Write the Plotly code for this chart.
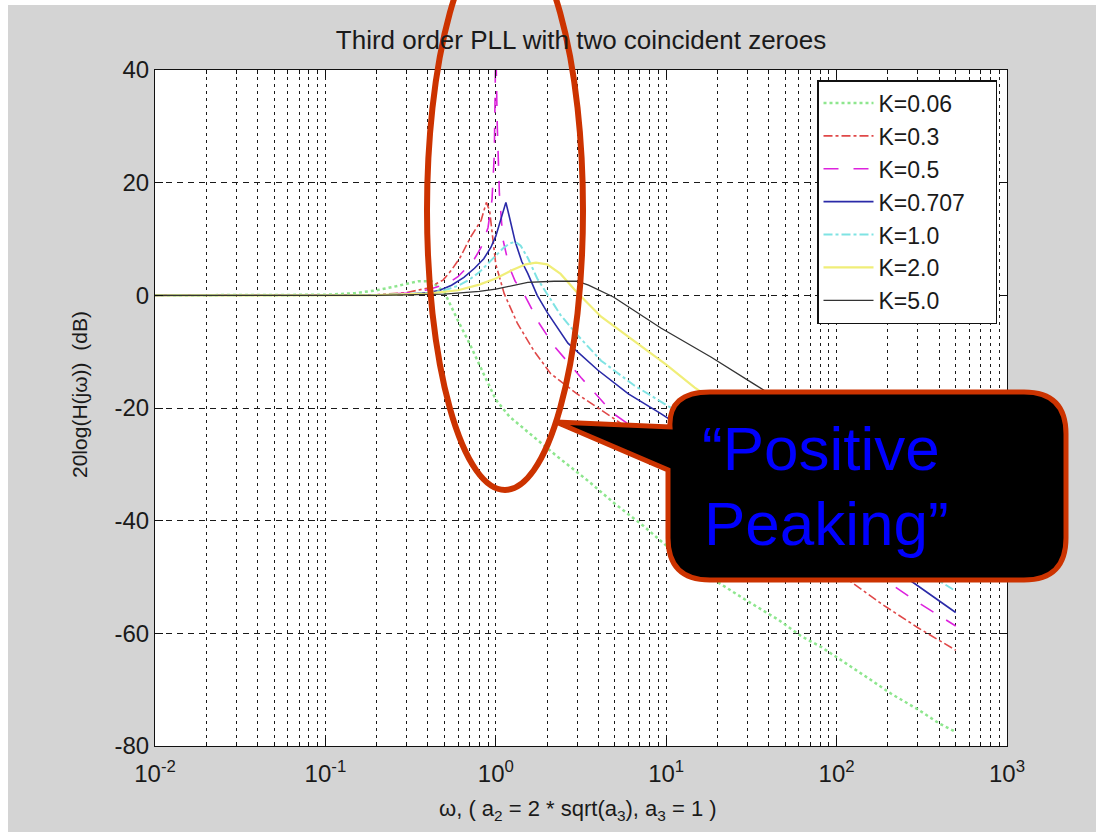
import plotly.graph_objects as go

# ---------------- data ----------------
w_k006 = [0.01, 0.1, 0.15, 0.2, 0.25, 0.3, 0.35, 0.42, 0.5, 0.6, 0.7, 0.85, 1.0, 1.2, 1.5, 2.25, 3.5, 5.0, 7.4, 11, 16, 29, 45, 62, 82, 110, 154, 211, 300, 400, 500]
db_k006 = [0, 0.1, 0.4, 0.9, 1.5, 2.1, 2.5, 2.5, 0.5, -4.5, -8.5, -14.0, -18.5, -21.5, -24.0, -28.4, -33.0, -37.0, -41.0, -45.5, -49.0, -54.0, -57.5, -60.5, -62.5, -65.0, -68.0, -70.8, -73.5, -76.0, -77.5]

w_k03 = [0.01, 0.2, 0.3, 0.4, 0.49, 0.55, 0.62, 0.71, 0.82, 0.88, 0.92, 0.96, 1.0, 1.12, 1.34, 1.67, 2.1, 3.0, 5.0, 10, 20, 50, 100, 184, 300, 500]
db_k03 = [0, 0.1, 0.5, 1.3, 2.7, 4.5, 6.8, 10.3, 13.3, 16.5, 15.0, 10.0, 5.5, 0.3, -5.0, -9.8, -13.9, -17.5, -22.0, -28.4, -34.5, -43.0, -49.0, -54.8, -59.0, -63.0]

w_k05 = [0.01, 0.2, 0.3, 0.4, 0.52, 0.6, 0.68, 0.75, 0.82, 0.9, 0.95, 0.98, 1.0, 1.02, 1.05, 1.1, 1.2, 1.3, 1.46, 1.8, 2.2, 3.16, 4.9, 10, 20, 50, 100, 202, 300, 500]
db_k05 = [0, 0.1, 0.4, 1.0, 2.1, 3.3, 5.0, 6.5, 8.5, 12.0, 17.0, 25.0, 45.0, 30.0, 18.0, 10.0, 5.0, 2.5, 0.3, -5.0, -9.0, -14.6, -21.0, -27.5, -33.5, -41.0, -45.5, -51.0, -54.5, -58.7]

w_k0707 = [0.01, 0.2, 0.3, 0.4, 0.47, 0.55, 0.65, 0.75, 0.85, 0.935, 1.0, 1.08, 1.146, 1.2, 1.3, 1.42, 1.54, 1.75, 2.02, 2.65, 3.98, 6.0, 9.3, 20, 50, 100, 200, 288, 500]
db_k0707 = [0, 0.05, 0.2, 0.5, 0.9, 1.8, 3.2, 4.8, 6.5, 8.5, 10.5, 14.0, 16.5, 14.0, 9.5, 6.0, 3.9, 0.0, -3.2, -8.5, -13.3, -17.5, -21.0, -27.5, -35.0, -41.5, -47.8, -51.2, -56.3]

w_k1 = [0.01, 0.2, 0.4, 0.5, 0.6, 0.7, 0.8, 0.9, 1.0, 1.1, 1.2, 1.3, 1.4, 1.55, 1.75, 2.02, 2.4, 3.0, 4.15, 6.5, 8.9, 20, 50, 100, 200, 500]
db_k1 = [0, 0.05, 0.4, 0.9, 1.7, 2.8, 4.1, 5.6, 7.0, 8.3, 9.2, 9.5, 8.8, 6.5, 3.0, 0.0, -3.5, -7.0, -11.6, -16.0, -18.5, -25.0, -32.5, -38.5, -45.0, -52.5]

w_k2 = [0.01, 0.2, 0.4, 0.6, 0.8, 1.0, 1.25, 1.5, 1.72, 2.0, 2.4, 3.0, 4.15, 5.5, 7.8, 10, 14.7, 30, 100, 200, 500]
db_k2 = [0, 0.02, 0.3, 0.9, 1.9, 3.0, 4.5, 5.5, 5.8, 5.5, 3.8, 0.5, -3.8, -6.5, -10.0, -12.3, -16.4, -22.5, -33.0, -39.0, -47.0]

w_k5 = [0.01, 0.2, 0.5, 0.8, 1.0, 1.54, 2.2, 3.0, 3.5, 4.9, 9.3, 18.4, 33, 100, 200, 500]
db_k5 = [0, 0, 0.2, 0.7, 1.1, 2.3, 2.5, 2.5, 1.8, -0.3, -5.8, -11.0, -15.8, -25.0, -31.5, -39.0]

series_names = ["K=0.06", "K=0.3", "K=0.5", "K=0.707", "K=1.0", "K=2.0", "K=5.0"]
x_tick_vals = [0.01, 0.1, 1, 10, 100, 1000]
x_tick_text = ["10<sup>-2</sup>", "10<sup>-1</sup>", "10<sup>0</sup>", "10<sup>1</sup>", "10<sup>2</sup>", "10<sup>3</sup>"]
y_tick_vals = [-80, -60, -40, -20, 0, 20, 40]
y_tick_text = ["-80", "-60", "-40", "-20", "0", "20", "40"]
minor_vals = [m * d for d in [0.01, 0.1, 1, 10, 100] for m in range(2, 10)]

# ---------------- geometry helpers (pixels -> paper) ----------------
W, H = 1096, 832
L, R, T, B = 155, 1007, 70, 746


def px(xp):
    return (xp - L) / (R - L)


def py(yp):
    return (B - yp) / (B - T)


styles = [
    dict(color="#8ee68e", width=2.5, dash="dot"),
    dict(color="#e04848", width=1.6, dash="dashdot"),
    dict(color="#dd22dd", width=1.6, dash="longdash"),
    dict(color="#2a2aa8", width=1.6, dash="solid"),
    dict(color="#7fe3e3", width=2.0, dash="dashdot"),
    dict(color="#f0ee78", width=2.2, dash="solid"),
    dict(color="#333333", width=1.3, dash="solid"),
]
xs = [w_k006, w_k03, w_k05, w_k0707, w_k1, w_k2, w_k5]
ys = [db_k006, db_k03, db_k05, db_k0707, db_k1, db_k2, db_k5]

fig = go.Figure()
for i, (name, x, y, st) in enumerate(zip(series_names, xs, ys, styles)):
    fig.add_trace(go.Scatter(x=x, y=y, mode="lines", name=name + "\u00a0\u00a0\u00a0\u00a0",
                             line=st, legendgroup=str(i)))

font_main = "Liberation Sans, Arial, Helvetica, sans-serif"
grid_col = "#1a1a1a"
txt_col = "#1a1a1a"

fig.update_layout(
    width=W, height=H,
    margin=dict(l=L, r=W - R, t=T, b=H - B),
    paper_bgcolor="#d4d4d4",
    plot_bgcolor="white",
    font=dict(family=font_main, size=23, color=txt_col),
    title=dict(text="Third order PLL with two coincident zeroes", x=0.5, xref="paper",
               y=1 - 40 / H, yref="container", xanchor="center", yanchor="middle",
               font=dict(size=26, color=txt_col)),
    showlegend=True,
    legend=dict(x=px(997), y=py(80), xanchor="right", yanchor="top",
                bgcolor="white", bordercolor="#111", borderwidth=1.5,
                font=dict(size=23, color=txt_col), tracegroupgap=0,
                itemwidth=50),
)

fig.update_xaxes(
    type="log", range=[-2, 3],
    tickmode="array", tickvals=x_tick_vals, ticktext=x_tick_text,
    ticks="inside", ticklen=8, tickcolor="#111", tickwidth=1,
    ticklabelstandoff=6,
    showline=True, linecolor="#111", linewidth=1.2, mirror="allticks",
    showgrid=True, gridcolor=grid_col, gridwidth=1.3, griddash="3px,4px",
    minor=dict(tickmode="array", tickvals=minor_vals, ticks="inside", ticklen=4,
               tickcolor="#111", showgrid=True, gridcolor=grid_col, gridwidth=1.3,
               griddash="3px,4px"),
    tickfont=dict(size=24, color=txt_col),
    zeroline=False,
)
fig.update_yaxes(
    range=[-80, 40], tickmode="array", tickvals=y_tick_vals, ticktext=y_tick_text,
    ticks="inside", ticklen=8, tickcolor="#111", tickwidth=1,
    showline=True, linecolor="#111", linewidth=1.2, mirror="allticks",
    showgrid=True, gridcolor=grid_col, gridwidth=1.3, griddash="6px,5px",
    tickfont=dict(size=24, color=txt_col),
    zeroline=False,
)

# axis labels
fig.add_annotation(text="ω, ( a<sub>2</sub> = 2 * sqrt(a<sub>3</sub>), a<sub>3</sub> = 1 )",
                   xref="paper", yref="paper", x=px(578), y=py(810), showarrow=False,
                   xanchor="center", yanchor="middle", font=dict(size=22, color=txt_col))
fig.add_annotation(text="20log(H(jω))  (dB)", xref="paper", yref="paper",
                   x=px(80), y=py(395), showarrow=False, textangle=-90,
                   xanchor="center", yanchor="middle", font=dict(size=21, color=txt_col))

shapes = []
# white strips at the top and left edges of the picture
shapes.append(dict(type="rect", xref="paper", yref="paper", x0=px(-5), x1=px(W + 5),
                   y0=py(-5), y1=py(5), fillcolor="white", line=dict(width=0), layer="below"))
shapes.append(dict(type="rect", xref="paper", yref="paper", x0=px(-5), x1=px(8),
                   y0=py(-5), y1=py(H + 5), fillcolor="white", line=dict(width=0), layer="below"))

# red ellipse highlighting the peaks
shapes.append(dict(type="circle", xref="paper", yref="paper", x0=px(427), x1=px(583),
                   y0=py(490), y1=py(-69), line=dict(color="#cc3300", width=6),
                   fillcolor="rgba(0,0,0,0)", layer="above"))


# callout bubble
def P(xp, yp):
    return f"{px(xp):.5f},{py(yp):.5f}"


bl, br, bt, bb, rr = 668, 1066, 392, 580, 42
path = ("M " + P(556, 422) + " L " + P(670, 427) +
        " Q " + P(bl, bt) + " " + P(bl + rr, bt) +
        " L " + P(br - rr, bt) + " Q " + P(br, bt) + " " + P(br, bt + rr) +
        " L " + P(br, bb - rr) + " Q " + P(br, bb) + " " + P(br - rr, bb) +
        " L " + P(bl + rr, bb) + " Q " + P(bl, bb) + " " + P(bl, bb - rr) +
        " L " + P(bl, 470) + " Z")
shapes.append(dict(type="path", xref="paper", yref="paper", path=path,
                   fillcolor="black", line=dict(color="#cc3300", width=5), layer="above"))
fig.update_layout(shapes=shapes)

fig.add_annotation(text="\u201cPositive", xref="paper", yref="paper", x=px(700), y=py(448),
                   showarrow=False, xanchor="left", yanchor="middle",
                   font=dict(size=62, color="#0000ff", family=font_main))
fig.add_annotation(text="Peaking\u201d", xref="paper", yref="paper", x=px(702), y=py(523),
                   showarrow=False, xanchor="left", yanchor="middle",
                   font=dict(size=62, color="#0000ff", family=font_main))

fig.write_html("out.html")
